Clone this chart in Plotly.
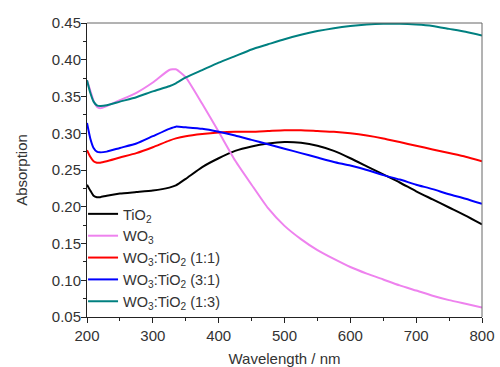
import plotly.graph_objects as go

wavelength = [200, 205, 210, 215, 220, 230, 250, 275, 300, 325, 335, 350, 375, 400, 425,
              450, 475, 500, 525, 550, 575, 600, 625, 650, 675, 700, 725, 750, 775, 800]

tio2 = [0.230, 0.222, 0.215, 0.213, 0.213, 0.215, 0.218, 0.220, 0.222, 0.226, 0.229, 0.238,
        0.254, 0.266, 0.276, 0.282, 0.286, 0.288, 0.287, 0.283, 0.276, 0.266, 0.255, 0.244,
        0.233, 0.221, 0.210, 0.199, 0.188, 0.176]
wo3 = [0.372, 0.358, 0.344, 0.336, 0.334, 0.337, 0.345, 0.355, 0.369, 0.386, 0.387, 0.376,
       0.340, 0.302, 0.263, 0.230, 0.198, 0.174, 0.156, 0.141, 0.129, 0.118, 0.109, 0.101,
       0.093, 0.086, 0.079, 0.073, 0.068, 0.063]
mix_11 = [0.277, 0.268, 0.262, 0.260, 0.260, 0.262, 0.267, 0.273, 0.281, 0.290, 0.293, 0.296,
          0.299, 0.301, 0.302, 0.302, 0.303, 0.304, 0.304, 0.303, 0.302, 0.300, 0.297, 0.293,
          0.288, 0.283, 0.278, 0.273, 0.268, 0.262]
mix_31 = [0.314, 0.293, 0.280, 0.275, 0.274, 0.275, 0.280, 0.286, 0.296, 0.306, 0.309, 0.308,
          0.306, 0.302, 0.297, 0.291, 0.285, 0.279, 0.273, 0.267, 0.261, 0.256, 0.250, 0.243,
          0.237, 0.230, 0.224, 0.217, 0.211, 0.204]
mix_13 = [0.372, 0.355, 0.343, 0.338, 0.337, 0.338, 0.343, 0.349, 0.357, 0.364, 0.368, 0.376,
          0.386, 0.396, 0.405, 0.414, 0.421, 0.428, 0.434, 0.439, 0.443, 0.446, 0.448, 0.449,
          0.449, 0.448, 0.446, 0.442, 0.438, 0.433]

series = [
    ("TiO<sub>2</sub>", tio2, "#000000"),
    ("WO<sub>3</sub>", wo3, "#EE82EE"),
    ("WO<sub>3</sub>:TiO<sub>2</sub> (1:1)", mix_11, "#FF0000"),
    ("WO<sub>3</sub>:TiO<sub>2</sub> (3:1)", mix_31, "#0000FF"),
    ("WO<sub>3</sub>:TiO<sub>2</sub> (1:3)", mix_13, "#008080"),
]

fig = go.Figure()
for name, ys, color in series:
    fig.add_trace(go.Scatter(x=wavelength, y=ys, name=name, mode="lines",
                             line=dict(color=color, width=2, shape="spline", smoothing=0.5)))

fam = "Liberation Sans, Arial, sans-serif"
fig.update_layout(
    width=500, height=367,
    margin=dict(l=87, r=18, t=23, b=50),
    paper_bgcolor="white", plot_bgcolor="white",
    font=dict(family=fam, size=15, color="#333333"),
    showlegend=True,
    legend=dict(x=-0.01, y=0.405, xanchor="left", yanchor="top", bgcolor="rgba(0,0,0,0)",
                font=dict(family=fam, size=14.5, color="#333333"),
                tracegroupgap=0, itemwidth=30),
)
fig.update_xaxes(range=[200, 800], dtick=100, tick0=200, showgrid=False, zeroline=False,
                 automargin=False,
                 showline=True, linecolor="#222222", linewidth=1, mirror=False,
                 ticks="outside", ticklen=5, tickcolor="#222222",
                 tickfont=dict(size=15),
                 minor=dict(ticks="outside", ticklen=3, dtick=50, tickcolor="#222222"),
                 title=dict(text="Wavelength / nm", font=dict(size=15), standoff=17))
fig.update_yaxes(range=[0.05, 0.45], dtick=0.05, tick0=0.05, tickformat=".2f", showgrid=False,
                 automargin=False,
                 zeroline=False, showline=True, linecolor="#222222", linewidth=1, mirror=False,
                 ticks="outside", ticklen=5, tickcolor="#222222",
                 tickfont=dict(size=15), ticklabelstandoff=-3,
                 minor=dict(ticks="outside", ticklen=3, dtick=0.025, tickcolor="#222222"),
                 title=dict(text="Absorption", font=dict(size=15), standoff=20))
# top and right frame in grey
fig.add_shape(type="line", xref="paper", yref="paper", x0=0, x1=1, y0=1, y1=1,
              line=dict(color="#666666", width=1))
fig.add_shape(type="line", xref="paper", yref="paper", x0=1, x1=1, y0=0, y1=1,
              line=dict(color="#666666", width=1))

fig.write_html("out.html", config={"displayModeBar": False},
               post_script="document.body.style.margin='0';")
